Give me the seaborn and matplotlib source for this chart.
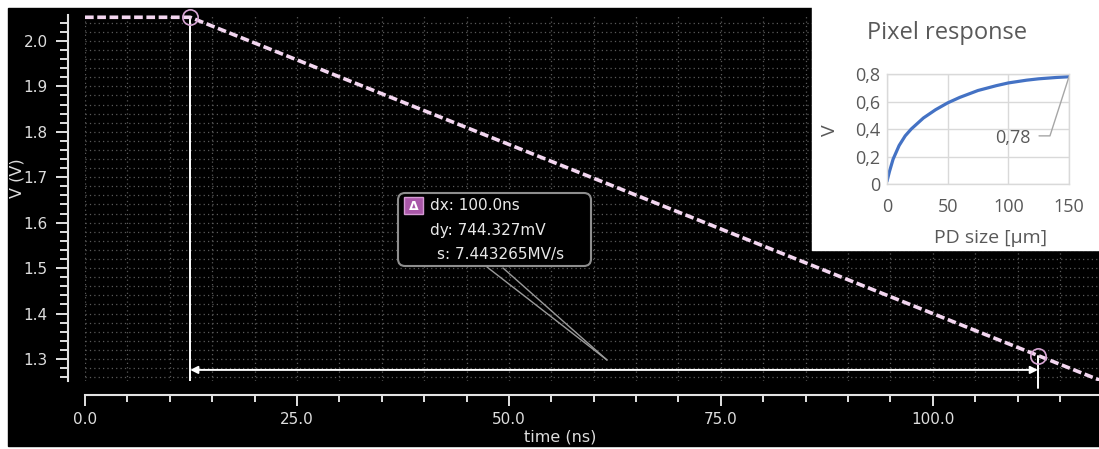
import matplotlib
matplotlib.use('Agg')
import matplotlib.pyplot as plt
from matplotlib.patches import Rectangle, FancyBboxPatch
from matplotlib.lines import Line2D
from matplotlib.ticker import MultipleLocator, FuncFormatter
import seaborn as sns

# transient simulation (cursor readout)
time_ns = [0.0, 12.4, 112.4, 120.0]
volts = [2.052, 2.052, 1.3077, 1.2511]
cursor_t = [12.4, 112.4]
cursor_v = [2.052, 1.3077]
delta_rows = ['dx: 100.0ns', 'dy: 744.327mV', 's: 7.443265MV/s']

# inset: pixel response vs photodiode size
pd_size = [0, 2, 5, 10, 15, 20, 25, 30, 40, 50, 60, 75, 90, 100, 115, 125, 140, 150]
pixel_v = [0.02, 0.09, 0.18, 0.28, 0.35, 0.40, 0.44, 0.48, 0.54, 0.59, 0.63, 0.68, 0.715, 0.735, 0.755, 0.765, 0.775, 0.78]
inset_label = '0,78'

W, H = 1099, 449


def fx(px):
    return px / W


def fy(py):
    return 1 - py / H


sns.set_theme(style='ticks')
plt.rcParams['font.family'] = ['DejaVu Sans']
inset_font = ['Open Sans', 'DejaVu Sans']

fig = plt.figure(figsize=(W / 100, H / 100), dpi=100)
fig.patch.set_facecolor('white')
fig.add_artist(Rectangle((fx(8), fy(446)), 1 - fx(8), (446 - 8) / H,
                         transform=fig.transFigure, color='black', zorder=-1))

# ---- main scope plot ----
ax = fig.add_axes([fx(85), fy(381), fx(1099) - fx(85), (381 - 15) / H])
ax.set_facecolor('none')
sns.lineplot(x=time_ns, y=volts, ax=ax, sort=False, color='#f3d6f0', lw=2.6,
             linestyle=(0, (2.4, 1.0)), zorder=4)
ax.plot(cursor_t, cursor_v, 'o', ms=11, mfc='none', mec='#d8a6d4', mew=1.2,
        clip_on=False, zorder=5)

ax.set_xlim(0, 119.6)
ax.set_ylim(1.2516, 2.057)
lo = ax.get_ylim()[0]
ax.plot([cursor_t[0]] * 2, [cursor_v[0], lo], color='white', lw=1.4, zorder=3)
ax.plot([cursor_t[1]] * 2, [cursor_v[1], lo - 0.016], color='white', lw=1.4,
        zorder=3, clip_on=False)
ax.annotate('', xy=(cursor_t[0], 1.276), xytext=(cursor_t[1], 1.276),
            arrowprops=dict(arrowstyle='<|-|>', color='white', lw=1.4,
                            mutation_scale=11, shrinkA=0, shrinkB=0), zorder=3)

ax.xaxis.set_major_locator(MultipleLocator(25))
ax.xaxis.set_minor_locator(MultipleLocator(5))
ax.yaxis.set_major_locator(MultipleLocator(0.1))
ax.yaxis.set_minor_locator(MultipleLocator(0.02))
ax.xaxis.set_major_formatter(FuncFormatter(lambda v, _: f'{v:.1f}'))
ax.yaxis.set_major_formatter(FuncFormatter(lambda v, _: f'{v:.1f}'))
ax.grid(which='both', color='#5a5a5a', linestyle=(0, (1, 2.5)), lw=0.9)
for s in ['top', 'right']:
    ax.spines[s].set_visible(False)
ax.spines['left'].set_position(('outward', 12))
ax.spines['bottom'].set_position(('outward', 10))
for s in ['left', 'bottom']:
    ax.spines[s].set_color('#e2e2e2')
    ax.spines[s].set_linewidth(1.5)
ax.tick_params(which='both', colors='#e2e2e2', width=1.4, labelsize=11,
               labelcolor='#dedede')
ax.tick_params(axis='y', which='major', length=9, pad=6)
ax.tick_params(axis='y', which='minor', length=6)
ax.tick_params(axis='x', which='major', length=8, pad=4)
ax.tick_params(axis='x', which='minor', length=5)
ax.set_xlabel('time (ns)', color='#dedede', fontsize=11.5)
ax.set_ylabel('V (V)', color='#dedede', fontsize=11.5)
ax.xaxis.set_label_coords((560 - 85) / 1014, (381 - 430) / 366)
ax.yaxis.set_label_coords((24 - 85) / 1014, (381 - 178) / 366)

# ---- delta readout box ----
fig.add_artist(FancyBboxPatch((fx(398), fy(266)), fx(591) - fx(398), (266 - 193) / H,
                              boxstyle='round,pad=0,rounding_size=0.0065',
                              mutation_aspect=W / H, transform=fig.transFigure,
                              fc='black', ec='#8e8e8e', lw=1.5, zorder=6))
fig.add_artist(Rectangle((fx(404), fy(214)), fx(423) - fx(404), (214 - 197) / H,
                         transform=fig.transFigure, fc='#a957a8', ec='#d59ad4',
                         lw=1, zorder=7))
fig.text(fx(413.5), fy(206), 'Δ', color='white', fontsize=9, fontweight='bold',
         ha='center', va='center', zorder=8)
for row, (px, py) in zip(delta_rows, [(430, 205), (430, 230), (437, 255)]):
    fig.text(fx(px), fy(py), row, color='#e8e8e8', fontsize=11, ha='left',
             va='center', zorder=8)
for sx, sy in [(487, 267), (503, 268)]:
    fig.add_artist(Line2D([fx(sx), fx(607)], [fy(sy), fy(360)],
                          transform=fig.transFigure, color='#9a9a9a', lw=1, zorder=6))

# ---- inset chart ----
fig.add_artist(Rectangle((fx(812), fy(250)), 1 - fx(812), 250 / H,
                         transform=fig.transFigure, color='white', zorder=0.5))
ax2 = fig.add_axes([fx(887), fy(184), fx(1069) - fx(887), (184 - 74) / H])
ax2.set_zorder(1)
ax2.set_facecolor('white')
sns.lineplot(x=pd_size, y=pixel_v, ax=ax2, color='#4472c4', lw=2.3)
ax2.set_xlim(0, 150)
ax2.set_ylim(0, 0.8)
ax2.set_xticks([0, 50, 100, 150])
ax2.set_yticks([0, 0.2, 0.4, 0.6, 0.8])
ax2.yaxis.set_major_formatter(FuncFormatter(
    lambda v, _: '0' if abs(v) < 1e-9 else f'{v:.1f}'.replace('.', ',')))
ax2.grid(color='#d9d9d9', lw=1)
for s in ax2.spines.values():
    s.set_color('#d9d9d9')
    s.set_linewidth(1)
ax2.tick_params(length=0, labelsize=13, labelcolor='#595959')
ax2.tick_params(axis='y', pad=5)
ax2.tick_params(axis='x', pad=10)
for lab in ax2.get_xticklabels() + ax2.get_yticklabels():
    lab.set_family(inset_font)
ax2.set_xlabel('')
ax2.set_ylabel('')
ax2.plot([pd_size[-1], 134.3, 125.3], [pixel_v[-1], 0.35, 0.35],
         color='#a6a6a6', lw=1, clip_on=False)
ax2.text(118.5, 0.335, inset_label, ha='right', va='center', fontsize=13,
         color='#595959', family=inset_font)

fig.text(fx(947), fy(33), 'Pixel response', ha='center', va='center', fontsize=17,
         color='#595959', family=inset_font)
fig.text(fx(991), fy(238), 'PD size [µm]', ha='center', va='center', fontsize=14,
         color='#595959', family=inset_font)
fig.text(fx(830), fy(130), 'V', ha='center', va='center', fontsize=14, rotation=90,
         color='#595959', family=inset_font)

plt.savefig('out.png', dpi=100)
